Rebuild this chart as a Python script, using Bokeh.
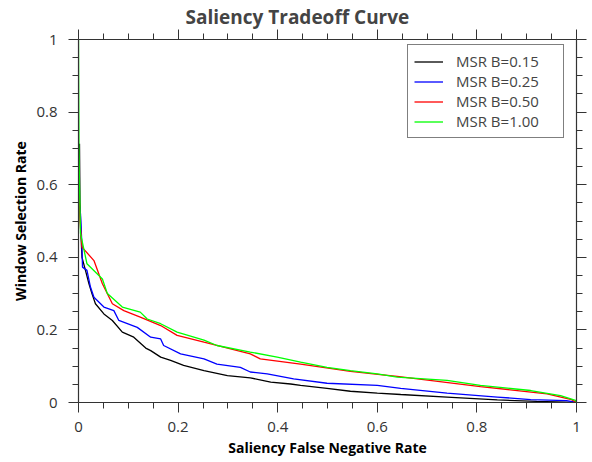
from bokeh.plotting import figure
from bokeh.models import (Range1d, LinearAxis, FixedTicker, CustomJSTickFormatter,
                          CustomLabelingPolicy, Legend, LegendItem)
from bokeh.embed import file_html
from bokeh.resources import INLINE

# ---- data ----
x_b015 = [0.002, 0.003, 0.005, 0.007, 0.014, 0.021, 0.027, 0.034, 0.051, 0.068, 0.088,
          0.111, 0.135, 0.145, 0.165, 0.185, 0.211, 0.252, 0.299, 0.345, 0.386, 0.426,
          0.446, 0.499, 0.546, 0.600, 0.647, 0.740, 0.841, 0.920, 1.000]
y_b015 = [0.713, 0.550, 0.460, 0.400, 0.364, 0.327, 0.300, 0.272, 0.244, 0.226, 0.194,
          0.180, 0.150, 0.143, 0.125, 0.116, 0.102, 0.088, 0.074, 0.068, 0.056, 0.051,
          0.047, 0.039, 0.031, 0.026, 0.022, 0.015, 0.007, 0.003, 0.000]

x_b025 = [0.000, 0.004, 0.005, 0.007, 0.008, 0.017, 0.024, 0.031, 0.051, 0.071, 0.081,
          0.118, 0.145, 0.165, 0.171, 0.205, 0.252, 0.278, 0.325, 0.345, 0.379, 0.432,
          0.499, 0.600, 0.647, 0.740, 0.841, 0.908, 0.980, 1.000]
y_b025 = [0.560, 0.520, 0.490, 0.428, 0.373, 0.364, 0.318, 0.290, 0.263, 0.253, 0.226,
          0.207, 0.180, 0.175, 0.157, 0.134, 0.120, 0.106, 0.097, 0.084, 0.079, 0.065,
          0.053, 0.047, 0.039, 0.026, 0.015, 0.008, 0.005, 0.000]

x_b050 = [0.000, 0.003, 0.007, 0.031, 0.048, 0.068, 0.091, 0.124, 0.165, 0.198, 0.252,
          0.345, 0.365, 0.446, 0.546, 0.606, 0.640, 0.807, 0.941, 0.990, 1.000]
y_b050 = [0.620, 0.500, 0.428, 0.391, 0.327, 0.272, 0.253, 0.235, 0.212, 0.185, 0.166,
          0.134, 0.120, 0.106, 0.086, 0.077, 0.072, 0.044, 0.024, 0.008, 0.000]

x_b100 = [0.000, 0.001, 0.002, 0.004, 0.017, 0.048, 0.058, 0.088, 0.124, 0.138, 0.165,
          0.198, 0.252, 0.278, 0.345, 0.399, 0.446, 0.499, 0.546, 0.600, 0.640, 0.740,
          0.807, 0.908, 0.968, 0.998, 1.000]
y_b100 = [1.000, 0.700, 0.600, 0.466, 0.382, 0.340, 0.300, 0.263, 0.249, 0.230, 0.217,
          0.194, 0.172, 0.157, 0.139, 0.125, 0.111, 0.097, 0.088, 0.079, 0.070, 0.061,
          0.047, 0.033, 0.019, 0.006, 0.000]

series_names = ["MSR B=0.15", "MSR B=0.25", "MSR B=0.50", "MSR B=1.00"]
series_colors = ["#000000", "#0000ff", "#ff0000", "#00ff00"]

major_ticks = [0.0, 0.2, 0.4, 0.6, 0.8, 1.0]
minor_ticks = [0.05, 0.1, 0.15, 0.25, 0.3, 0.35, 0.45, 0.5, 0.55,
               0.65, 0.7, 0.75, 0.85, 0.9, 0.95]

title_text = "Saliency Tradeoff Curve"

FONT = "Open Sans"
AX_COLOR = "#333333"

p = figure(width=592, height=462, output_backend="svg", toolbar_location=None,
           x_range=Range1d(0, 1), y_range=Range1d(0, 1),
           min_border_left=78, min_border_right=16, min_border_top=39,
           min_border_bottom=60)
p.grid.visible = False
p.outline_line_color = None
p.background_fill_color = "white"
p.border_fill_color = "white"

p.title.text = title_text
p.title.text_font = FONT
p.title.text_font_size = "19px"
p.title.text_font_style = "bold"
p.title.align = "left"
p.title.offset = 107
p.title.standoff = 0

fmt = CustomJSTickFormatter(code="return tick.toFixed(1).replace(/\\.0$/, '');")
no_labels = CustomLabelingPolicy(code="return new Set();")


def style_axis(ax, labels=True):
    ax.ticker = FixedTicker(ticks=major_ticks, minor_ticks=minor_ticks)
    ax.axis_line_color = AX_COLOR
    ax.axis_line_width = 1.2
    ax.major_tick_line_color = AX_COLOR
    ax.minor_tick_line_color = AX_COLOR
    ax.major_tick_in = 0
    ax.major_tick_out = 10
    ax.minor_tick_in = 0
    ax.minor_tick_out = 6
    if labels:
        ax.formatter = fmt
        ax.major_label_text_font = FONT
        ax.major_label_text_font_size = "15px"
        ax.major_label_text_color = "#333333"
        ax.axis_label_text_font = FONT
        ax.axis_label_text_font_size = "14px"
        ax.axis_label_text_font_style = "bold"
        ax.axis_label_text_color = "#000000"
    else:
        ax.major_label_policy = no_labels
        ax.major_label_text_font_size = "0px"
        ax.major_label_standoff = 0


style_axis(p.xaxis[0])
style_axis(p.yaxis[0])
p.xaxis[0].axis_label = "Saliency False Negative Rate"
p.yaxis[0].axis_label = "Window Selection Rate"
p.xaxis[0].major_label_standoff = 9
p.xaxis[0].axis_label_standoff = 3
p.yaxis[0].major_label_standoff = 11
p.yaxis[0].axis_label_standoff = 3

top_ax = LinearAxis()
right_ax = LinearAxis()
style_axis(top_ax, labels=False)
style_axis(right_ax, labels=False)
p.add_layout(top_ax, "above")
p.add_layout(right_ax, "right")

xs = [x_b015, x_b025, x_b050, x_b100]
ys = [y_b015, y_b025, y_b050, y_b100]
items = []
for xv, yv, name, col in zip(xs, ys, series_names, series_colors):
    r = p.line(xv, yv, line_color=col, line_width=1.3)
    items.append(LegendItem(label=name, renderers=[r]))

legend = Legend(items=items, location=(329, 264))
legend.label_text_font = FONT
legend.label_text_font_size = "15px"
legend.border_line_color = "#000000"
legend.border_line_width = 1
legend.background_fill_alpha = 1
legend.padding = 6
legend.spacing = 0
legend.glyph_width = 29
legend.glyph_height = 19
legend.label_height = 19
legend.label_width = 101
legend.label_standoff = 13
legend.margin = 0
p.add_layout(legend, "center")

open("out.html", "w").write(file_html(p, INLINE))
